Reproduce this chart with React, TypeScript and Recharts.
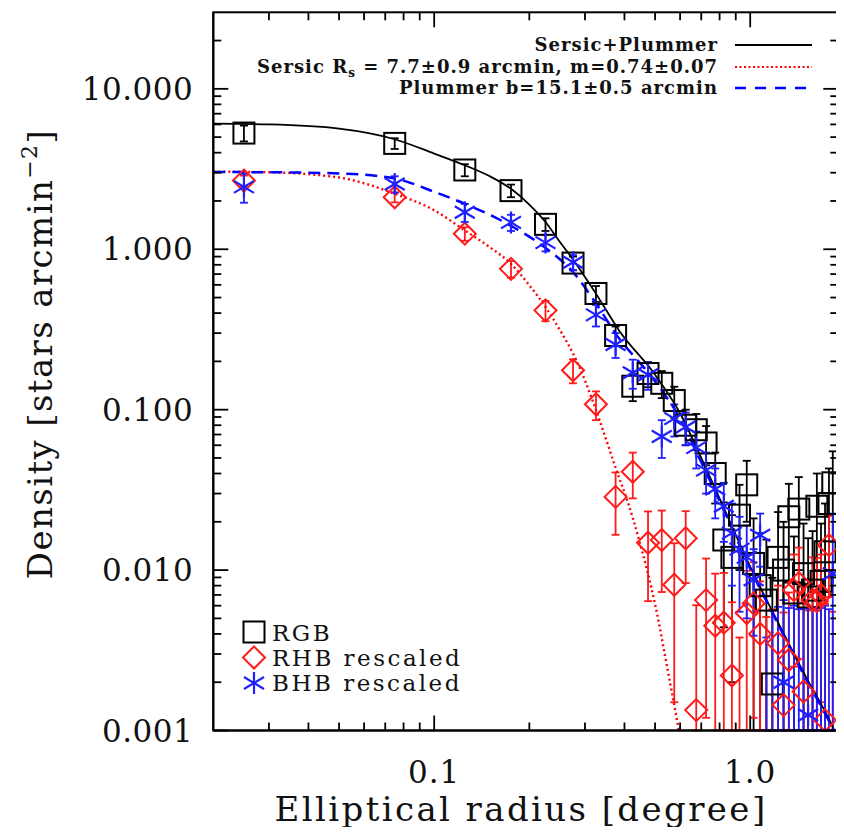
import React from "react";
import { ComposedChart, Scatter, Line, XAxis, YAxis, ErrorBar, Legend } from "recharts";

const FONT = "'DejaVu Serif', serif";

// radial bins (degree)
const radius = [
  0.025, 0.075, 0.125, 0.175, 0.225, 0.275, 0.325, 0.375, 0.425, 0.475,
  0.525, 0.575, 0.625, 0.675, 0.725, 0.775, 0.825, 0.875, 0.925, 0.975,
  1.025, 1.075, 1.125, 1.175, 1.225, 1.275, 1.325, 1.375, 1.425, 1.475,
  1.525, 1.575, 1.625, 1.675, 1.725, 1.775, 1.825,
];

const rgbDensity = [
  5.3, 4.57, 3.12, 2.32, 1.43, 0.82, 0.53, 0.29, 0.14, 0.168,
  0.146, 0.114, 0.08, 0.075, 0.062, 0.04, 0.0154, 0.012, 0.022, 0.034,
  0.011, 0.008, 0.0065, 0.00195, 0.012, 0.01, 0.0215, 0.0072, 0.024, 0.0095,
  0.0068, 0.0075, 0.025, 0.0085, 0.013, 0.026, 0.035,
];
const rgbError = [
  0.6, 0.35, 0.27, 0.21, 0.13, 0.08, 0.06, 0.04, 0.027, 0.03,
  0.028, 0.025, 0.02, 0.019, 0.017, 0.014, 0.011, 0.01, 0.012, 0.014,
  0.01, 0.009, 0.009, 0.007, 0.011, 0.01, 0.013, 0.009, 0.014, 0.01,
  0.009, 0.01, 0.015, 0.011, 0.013, 0.017, 0.02,
];

const rhbDensity = [
  2.68, 2.11, 1.25, 0.755, 0.416, 0.176, 0.108, 0.0286, 0.041, 0.0148,
  0.0154, 0.0081, 0.0158, 0.00134, 0.0065, 0.0045, 0.0047, 0.0022, 0.0005, 0.0054,
  0.0062, 0.004, 0.0006, 0.0007, 0.0035, 0.00144, 0.00275, 0.0075, 0.0083, 0.00175,
  0.0006, 0.0065, 0.0064, 0.007, 0.00116, 0.0143, 0.0005,
];
const rhbError = [
  0.2, 0.15, 0.12, 0.09, 0.06, 0.03, 0.022, 0.012, 0.013, 0.0084,
  0.0081, 0.0066, 0.0075, 0.0047, 0.0053, 0.005, 0.0049, 0.0041, 0.0033, 0.0045,
  0.005, 0.0045, 0.0045, 0.005, 0.0045, 0.004, 0.0045, 0.005, 0.0055, 0.0045,
  0.005, 0.0055, 0.0055, 0.0055, 0.005, 0.0075, 0.005,
];

const bhbDensity = [
  2.45, 2.55, 1.7, 1.47, 1.1, 0.83, 0.39, 0.255, 0.17, 0.165,
  0.068, 0.088, 0.078, 0.058, 0.042, 0.032, 0.025, 0.017, 0.0135, 0.012,
  0.0087, 0.0165, 0.0004, 0.0004, 0.0004, 0.002, 0.0004, 0.0004, 0.0004, 0.0004,
  0.00125, 0.0004, 0.0004, 0.0004, 0.0004, 0.0004, 0.0095,
];
const bhbError = [
  0.5, 0.3, 0.22, 0.17, 0.13, 0.09, 0.06, 0.045, 0.035, 0.032,
  0.018, 0.02, 0.018, 0.015, 0.012, 0.011, 0.01, 0.009, 0.008, 0.007,
  0.0048, 0.006, 0.0034, 0.0052, 0.0055, 0.0045, 0.0054, 0.0056, 0.0053, 0.0054,
  0.0045, 0.0055, 0.0052, 0.0054, 0.0056, 0.0053, 0.013,
];

// fitted profiles
const fitBothR = [0.02, 0.03, 0.05, 0.075, 0.1, 0.125, 0.15, 0.175, 0.2, 0.225, 0.25, 0.275, 0.3, 0.325, 0.384, 0.5, 0.6, 0.7, 0.8, 1.0, 1.2, 1.5, 1.82, 1.86];
const fitBothD = [6.07, 6.0, 5.65, 4.85, 3.95, 3.34, 2.85, 2.38, 1.9, 1.48, 1.11, 0.863, 0.672, 0.529, 0.313, 0.165, 0.095, 0.05, 0.028, 0.0105, 0.0051, 0.00216, 0.00106, 0.00096];

const fitSersicR = [0.02, 0.03, 0.05, 0.075, 0.1, 0.125, 0.15, 0.175, 0.2, 0.225, 0.25, 0.275, 0.3, 0.328, 0.384, 0.408, 0.445, 0.502, 0.55, 0.587, 0.6];
const fitSersicD = [3.05, 3.02, 2.8, 2.22, 1.75, 1.31, 1.03, 0.81, 0.597, 0.437, 0.313, 0.224, 0.152, 0.0946, 0.038, 0.0273, 0.0154, 0.0059, 0.0023, 0.00115, 0.0009];

const fitPlummerR = [0.02, 0.03, 0.05, 0.075, 0.1, 0.125, 0.175, 0.225, 0.275, 0.325, 0.375, 0.5, 0.6, 0.7, 0.8, 1.0, 1.2, 1.5, 1.82, 1.86];
const fitPlummerD = [3.03, 3.02, 2.97, 2.76, 2.28, 1.92, 1.4, 1.02, 0.72, 0.46, 0.298, 0.15, 0.088, 0.047, 0.027, 0.0102, 0.005, 0.0021, 0.00104, 0.00095];

const xTicks = [0.03, 0.04, 0.05, 0.06, 0.07, 0.08, 0.09, 0.1, 0.2, 0.3, 0.4, 0.5, 0.6, 0.7, 0.8, 0.9, 1];
const xLabels = new Map<number, string>([[0.1, "0.1"], [1, "1.0"]]);
const yTicks = [
  0.001, 0.002, 0.003, 0.004, 0.005, 0.006, 0.007, 0.008, 0.009,
  0.01, 0.02, 0.03, 0.04, 0.05, 0.06, 0.07, 0.08, 0.09,
  0.1, 0.2, 0.3, 0.4, 0.5, 0.6, 0.7, 0.8, 0.9,
  1, 2, 3, 4, 5, 6, 7, 8, 9, 10, 20,
];
const yLabels = new Map<number, string>([
  [0.001, "0.001"], [0.01, "0.010"], [0.1, "0.100"], [1, "1.000"], [10, "10.000"],
]);

const X_DOMAIN = [0.02, 1.9];
const Y_DOMAIN = [0.001, 30];
const W = 836;
const H = 827;
const MARGIN = { top: 4.3, right: 5.7, left: 0, bottom: 0 };
const PLOT = { left: 205.3, top: 4.3, right: W - 5.7, bottom: 722.5 };

// error bars stop at the bottom of the plot (log axis)
const toRows = (vals: number[], errs: number[]) =>
  radius.map((r, i) => {
    const low = Math.max(vals[i] - errs[i], Y_DOMAIN[0]);
    return { r, d: vals[i], err: [vals[i] - low, errs[i]] };
  });
const toCurve = (rs: number[], ds: number[]) => rs.map((r, i) => ({ r, d: ds[i] }));

const rgbRows = toRows(rgbDensity, rgbError);
const rhbRows = toRows(rhbDensity, rhbError);
const bhbRows = toRows(bhbDensity, bhbError);

const Square = ({ cx, cy }: any) =>
  cx == null || cy == null ? null : (
    <rect x={cx - 10.5} y={cy - 10.5} width={21} height={21} fill="none" stroke="#000" strokeWidth={2} />
  );
const Diamond = ({ cx, cy }: any) =>
  cx == null || cy == null ? null : (
    <path d={`M${cx} ${cy - 11}L${cx + 11} ${cy}L${cx} ${cy + 11}L${cx - 11} ${cy}Z`} fill="none" stroke="#ff1a1a" strokeWidth={2} />
  );
const Asterisk = ({ cx, cy }: any) =>
  cx == null || cy == null ? null : (
    <g stroke="#1f1fff" strokeWidth={2.2}>
      <line x1={cx} y1={cy - 11} x2={cx} y2={cy + 11} />
      <line x1={cx - 10} y1={cy - 6} x2={cx + 10} y2={cy + 6} />
      <line x1={cx - 10} y1={cy + 6} x2={cx + 10} y2={cy - 6} />
    </g>
  );

const tickText = { fontFamily: FONT, fontSize: 31, letterSpacing: 1, fill: "#111" };

// bottom ticks with their mirror on the top edge
function XTick({ x, y, payload }: any) {
  const label = xLabels.get(payload.value);
  const len = label ? 15 : 8;
  return (
    <g>
      <line x1={x} y1={y} x2={x} y2={y - len} stroke="#000" strokeWidth={1.8} />
      <line x1={x} y1={PLOT.top} x2={x} y2={PLOT.top + len} stroke="#000" strokeWidth={1.8} />
      {label && (
        <text x={x} y={y + 52} textAnchor="middle" {...tickText}>{label}</text>
      )}
    </g>
  );
}
// left ticks with their mirror on the right edge
function YTick({ x, y, payload }: any) {
  const label = yLabels.get(payload.value);
  const len = label ? 15 : 8;
  return (
    <g>
      <line x1={x} y1={y} x2={x + len} y2={y} stroke="#000" strokeWidth={1.8} />
      <line x1={PLOT.right} y1={y} x2={PLOT.right - len} y2={y} stroke="#000" strokeWidth={1.8} />
      {label && (
        <text x={x - 20} y={y + 11} textAnchor="end" {...tickText} letterSpacing={0.5}>{label}</text>
      )}
    </g>
  );
}

function Overlay() {
  const title = { fontFamily: FONT, fontSize: 34, fill: "#111" };
  const key = { fontFamily: FONT, fontSize: 18, fontWeight: 700, letterSpacing: 1, fill: "#111" };
  const small = { fontFamily: FONT, fontSize: 23, letterSpacing: 2.5, fill: "#111" };
  return (
    <svg width={W} height={H} style={{ display: "block" }}>
      <rect x={PLOT.left} y={PLOT.top} width={PLOT.right - PLOT.left} height={PLOT.bottom - PLOT.top} fill="none" stroke="#000" strokeWidth={2} />
      <text x={513} y={813} textAnchor="middle" {...title} letterSpacing={2.4}>Elliptical radius [degree]</text>
      <text transform="translate(44 346) rotate(-90)" textAnchor="middle" {...title} letterSpacing={1.4}>
        Density [stars arcmin
        <tspan fontSize={22} dy={-15}>−2</tspan>
        <tspan dy={15}>]</tspan>
      </text>

      <text x={710} y={43} textAnchor="end" {...key}>Sersic+Plummer</text>
      <text x={710} y={65} textAnchor="end" {...key}>
        Sersic R<tspan fontSize={12} dy={4}>s</tspan>
        <tspan dy={-4}> = 7.7±0.9 arcmin, m=0.74±0.07</tspan>
      </text>
      <text x={710} y={86} textAnchor="end" {...key}>Plummer b=15.1±0.5 arcmin</text>
      <line x1={727} y1={37} x2={804} y2={37} stroke="#000" strokeWidth={1.8} />
      <line x1={727} y1={59} x2={804} y2={59} stroke="#ff0000" strokeWidth={2.2} strokeDasharray="2 2.5" />
      <line x1={727} y1={80} x2={804} y2={80} stroke="#0000ff" strokeWidth={2.5} strokeDasharray="11 9" />

      <Square cx={246} cy={624} />
      <Diamond cx={246} cy={649.5} />
      <Asterisk cx={246} cy={675} />
      <text x={264} y={633} {...small}>RGB</text>
      <text x={264} y={658} {...small}>RHB rescaled</text>
      <text x={264} y={683} {...small}>BHB rescaled</text>
    </svg>
  );
}

export default function App() {
  const axisLine = { stroke: "#000", strokeWidth: 2 };
  return (
    <div style={{ width: W, height: H, overflow: "hidden", marginBottom: -8 }}>
      <ComposedChart width={W} height={H} margin={MARGIN}>
        <XAxis
          dataKey="r" type="number" scale="log" domain={X_DOMAIN} allowDataOverflow
          ticks={xTicks} interval={0} tick={XTick} tickLine={false} tickSize={0} tickMargin={0}
          axisLine={axisLine} height={104.5}
        />
        <YAxis
          dataKey="d" type="number" scale="log" domain={Y_DOMAIN} allowDataOverflow
          ticks={yTicks} interval={0} tick={YTick} tickLine={false} tickSize={0} tickMargin={0}
          axisLine={axisLine} width={205.3}
        />

        <Scatter name="RGB" data={rgbRows} shape={Square} isAnimationActive={false}>
          <ErrorBar dataKey="err" direction="y" width={4} stroke="#000" strokeWidth={1.8} isAnimationActive={false} />
        </Scatter>
        <Scatter name="RHB rescaled" data={rhbRows} shape={Diamond} isAnimationActive={false}>
          <ErrorBar dataKey="err" direction="y" width={4} stroke="#ff1a1a" strokeWidth={1.8} isAnimationActive={false} />
        </Scatter>
        <Scatter name="BHB rescaled" data={bhbRows} shape={Asterisk} isAnimationActive={false}>
          <ErrorBar dataKey="err" direction="y" width={4} stroke="#1f1fff" strokeWidth={1.8} isAnimationActive={false} />
        </Scatter>

        <Line data={toCurve(fitBothR, fitBothD)} dataKey="d" type="monotone" stroke="#000" strokeWidth={1.8} dot={false} isAnimationActive={false} />
        <Line data={toCurve(fitSersicR, fitSersicD)} dataKey="d" type="monotone" stroke="#ff0000" strokeWidth={2.4} strokeDasharray="2 3" dot={false} isAnimationActive={false} />
        <Line data={toCurve(fitPlummerR, fitPlummerD)} dataKey="d" type="monotone" stroke="#0000ff" strokeWidth={2.5} strokeDasharray="12 7" dot={false} isAnimationActive={false} />

        <Legend
          layout="horizontal" verticalAlign="middle" align="center"
          wrapperStyle={{ position: "absolute", left: 0, top: 0, width: W, height: H, pointerEvents: "none" }}
          content={() => <Overlay />}
        />
      </ComposedChart>
    </div>
  );
}
